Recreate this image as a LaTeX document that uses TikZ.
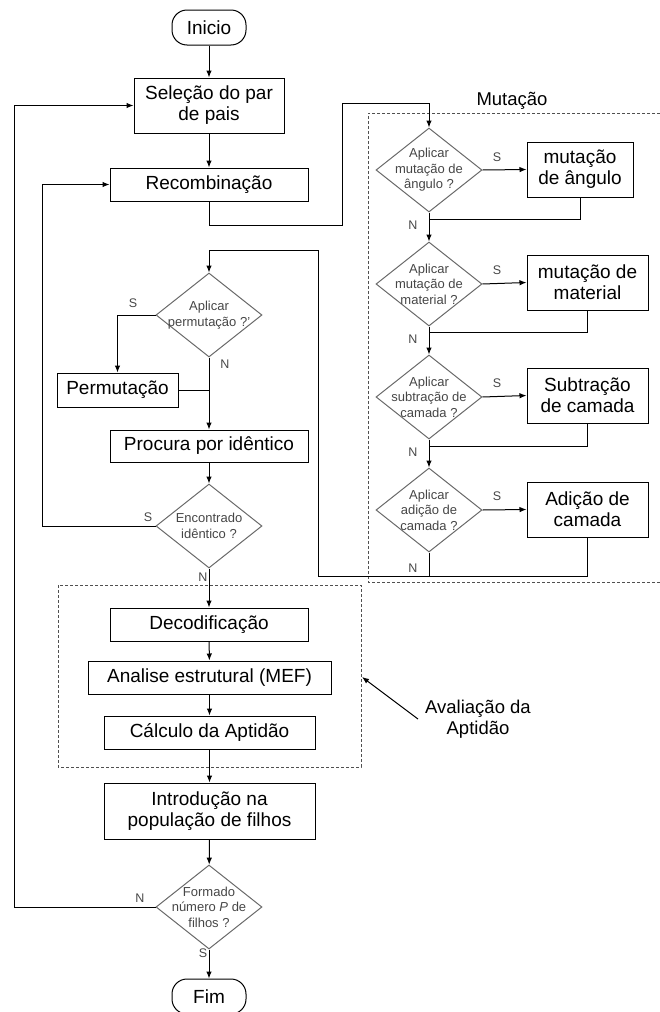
\documentclass[tikz,border=0pt]{standalone}
\usepackage{fontspec}
\setmainfont{Liberation Sans}
\usepackage{tikz}
\usetikzlibrary{shapes.geometric}
\usetikzlibrary{arrows.meta}
\usetikzlibrary{calc}
\usepackage{xcolor}
\definecolor{diagray}{RGB}{105,105,105}
\definecolor{diatext}{RGB}{70,70,70}
\definecolor{framegray}{RGB}{80,80,80}
\tikzset{
  procbox/.style={draw, black, line width=1pt, align=center, inner sep=2pt,
    font=\fontsize{19}{21}\selectfont},
  termbox/.style={procbox, rounded corners=15pt, minimum width=74pt, minimum height=35pt},
  decision/.style={diamond, draw=diagray, line width=1pt, text=diatext, align=center,
    shape aspect=1.26, inner sep=-12pt, minimum width=106pt, minimum height=84pt,
    font=\fontsize{13}{15.5}\selectfont},
  yesno/.style={text=diatext, inner sep=0pt, font=\fontsize{12.5}{14}\selectfont},
  flow/.style={black, line width=1pt, -{Latex[length=7pt,width=5.5pt]}},
  link/.style={black, line width=1pt},
  groupframe/.style={framegray, line width=0.9pt, dash pattern=on 3pt off 2pt},
  grouplabel/.style={inner sep=1pt, font=\fontsize{18.5}{21}\selectfont},
}

\begin{document}
\begin{tikzpicture}[x=1pt,y=-1pt]
\useasboundingbox (0,0) rectangle (660,1012);

%%%%%%%%%%%%%%%%%%%%%%%%%%%%%%%%%%%%%%%%%%%%%%%%%%%%%%%%%%%%%% Main column
\node[termbox] (ini) at (209,27.5) {Inicio};
\node[procbox, minimum width=150pt, minimum height=55pt] (sel) at (209,105.5) {Seleção do par\\de pais};
\node[procbox, minimum width=198pt, minimum height=33pt] (rec) at (209,184.5) {Recombinação};

\node[decision] (dp) at (209,315) {Aplicar\\permutação ?'};
\node[procbox, minimum width=121pt, minimum height=34pt] (perm) at (117.5,390) {Permutação};
\node[procbox, minimum width=198pt, minimum height=32pt] (proc) at (209,446) {Procura por idêntico};
\node[decision] (enc) at (209,526) {Encontrado\\idêntico ?};

\node[procbox, minimum width=198pt, minimum height=33pt] (dec) at (209,624.5) {Decodificação};
\node[procbox, minimum width=243pt, minimum height=33pt] (ana) at (209.5,677.5) {Analise estrutural (MEF)};
\node[procbox, minimum width=211pt, minimum height=33pt] (calc) at (209.5,732.5) {Cálculo da Aptidão};
\node[procbox, minimum width=211pt, minimum height=56pt] (intro) at (209.5,811) {Introdução na\\população de filhos};
\node[decision] (form) at (209,907) {Formado\\número \textit{P} de\\filhos ?};
\node[termbox] (fim) at (209,996.5) {Fim};

%%%%%%%%%%%%%%%%%%%%%%%%%%%%%%%%%%%%%%%%%%%%%%%%%%%%%%%%%%%%%% Mutation column
\node[decision] (d1) at (429,170) {Aplicar\\mutação de\\ângulo ?};
\node[decision] (d2) at (429,284) {Aplicar\\mutação de\\material ?};
\node[decision] (d3) at (429,397) {Aplicar\\subtração de\\camada ?};
\node[decision] (d4) at (429,510) {Aplicar\\adição de\\camada ?};

\node[procbox, minimum width=106pt, minimum height=55pt] (b1) at (580,169.5) {mutação\\de ângulo};
\node[procbox, minimum width=121pt, minimum height=55pt] (b2) at (587.5,282.5) {mutação de\\material};
\node[procbox, minimum width=121pt, minimum height=55pt] (b3) at (587.5,395.5) {Subtração\\de camada};
\node[procbox, minimum width=121pt, minimum height=55pt] (b4) at (587.5,509.5) {Adição de\\camada};

%%%%%%%%%%%%%%%%%%%%%%%%%%%%%%%%%%%%%%%%%%%%%%%%%%%%%%%%%%%%%% Frames
\draw[groupframe] (660,113) -- (368,113) -- (368,582) -- (660,582);
\node[grouplabel] (mutlbl) at (512,101) {Mutação};

\draw[groupframe] (58,585) rectangle (361,767);
\node[grouplabel, align=center] (avallbl) at (478,719) {Avaliação da\\Aptidão};
\coordinate (af) at (362,677);
\draw[black, line width=1pt, -{Latex[length=7pt,width=5.5pt]}] ([xshift=-6pt]avallbl.west) -- (af);

%%%%%%%%%%%%%%%%%%%%%%%%%%%%%%%%%%%%%%%%%%%%%%%%%%%%%%%%%%%%%% Helper points
\coordinate (r1) at (342,225);
\coordinate (r2) at (342,103);
\coordinate (n1) at (429,219);
\coordinate (n2) at (429,332);
\coordinate (n3) at (429,446);
\coordinate (r3) at (318,576);
\coordinate (r4) at (318,250);
\coordinate (l1) at (42,0);
\coordinate (l2) at (14,0);

%%%%%%%%%%%%%%%%%%%%%%%%%%%%%%%%%%%%%%%%%%%%%%%%%%%%%%%%%%%%%% Connectors
\draw[flow] (ini) -- (sel);
\draw[flow] (sel) -- (rec);
\draw[flow] (rec.south) |- (r1) -- (r2) -| (d1.north);

\draw[flow] (d1.east) -- (b1.west);
\draw[link] (b1.south) |- (n1);
\draw[flow] (d1.south) -- (d2.north);
\draw[flow] (d2.east) -- (b2.west);
\draw[link] (b2.south) |- (n2);
\draw[flow] (d2.south) -- (d3.north);
\draw[flow] (d3.east) -- (b3.west);
\draw[link] (b3.south) |- (n3);
\draw[flow] (d3.south) -- (d4.north);
\draw[flow] (d4.east) -- (b4.west);
\draw[link] (d4.south) -- (d4.south |- r3);
\draw[flow] (b4.south) |- (r3) -- (r4) -| (dp.north);

\draw[flow] (dp.west) -| (perm.north);
\draw[link] (perm.east) -- (perm.east -| dp.south);
\draw[flow] (dp.south) -- (proc.north);
\draw[flow] (proc) -- (enc);
\draw[flow] (enc.west) -- (enc.west -| l1) |- (rec.west);
\draw[flow] (enc.south) -- (dec.north);
\draw[flow] (dec) -- (ana);
\draw[flow] (ana) -- (calc);
\draw[flow] (calc) -- (intro);
\draw[flow] (intro) -- (form);
\draw[flow] (form) -- (fim);
\draw[flow] (form.west) -- (form.west -| l2) |- (sel.west);

%%%%%%%%%%%%%%%%%%%%%%%%%%%%%%%%%%%%%%%%%%%%%%%%%%%%%%%%%%%%%% S / N labels
\node[yesno] (s1) at (497,157) {S};
\node[yesno] (s2) at (497,270) {S};
\node[yesno] (s3) at (497,383) {S};
\node[yesno] (s4) at (497,496) {S};
\node[yesno] (nn1) at (413,225) {N};
\node[yesno] (nn2) at (413,339) {N};
\node[yesno] (nn3) at (413,452) {N};
\node[yesno] (nn4) at (413,568) {N};
\node[yesno] (sp) at (133,303) {S};
\node[yesno] (np) at (225,364) {N};
\node[yesno] (se) at (148,517) {S};
\node[yesno] (ne) at (203,577) {N};
\node[yesno] (nf) at (140,898) {N};
\node[yesno] (sf) at (203,953) {S};

\end{tikzpicture}
\end{document}
